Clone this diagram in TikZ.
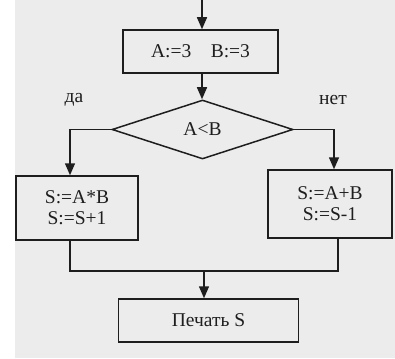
\documentclass[tikz,border=0pt]{standalone}
\usepackage{fontspec}
\setmainfont{Liberation Serif}
\usetikzlibrary{arrows.meta, shapes.geometric}
\definecolor{ink}{HTML}{1E1E1E}
\definecolor{paper}{HTML}{ECECEC}

\begin{document}
\begin{tikzpicture}[x=1pt, y=-1pt,
      every node/.style={font=\fontsize{19.5}{21}\selectfont, align=center, text=ink},
      line/.style={draw=ink, line width=1.5pt},
      arr/.style={line, -{Triangle[length=12pt, width=10pt]}},
      box/.style={line, rectangle, inner sep=0pt},
      cond/.style={line, diamond, inner sep=0pt, minimum width=181pt, minimum height=59pt}]
    \useasboundingbox (0,0) rectangle (395,358);
    \fill[paper] (15,0) rectangle (395,358);
    % blocks
    \coordinate (start) at (202,0);
    \node[box, minimum width=155pt, minimum height=43pt] (init) at (200.5,51.5) {A:=3\quad B:=3};
    \node[cond] (test) at (202.5,129.5) {A<B};
    \node[box, minimum width=122pt, minimum height=64pt] (yes) at (77,208) {S:=A*B\\S:=S+1};
    \node[box, minimum width=124pt, minimum height=68pt] (no) at (330,204) {S:=A+B\\S:=S-1};
    \node[box, minimum width=180pt, minimum height=43pt] (print) at (208.5,320.5) {Печать S};
    % branch labels
    \node (da) at (74,100) {да};
    \node (net) at (333,100) {нет};
    % connectors
    \draw[arr] (start) -- (init.north -| start);
    \draw[arr] (init.south -| start) -- (test.north -| start);
    \draw[arr] (test.west) -| ([xshift=-7pt]yes.north);
    \draw[arr] (test.east) -| ([xshift=4pt]no.north);
    \coordinate (join) at (204,271);
    \draw[line] ([xshift=-7pt]yes.south) |- (join);
    \draw[line] ([xshift=8pt]no.south) |- (join);
    \draw[arr] (join) -- (print.north -| join);
  \end{tikzpicture}
\end{document}
